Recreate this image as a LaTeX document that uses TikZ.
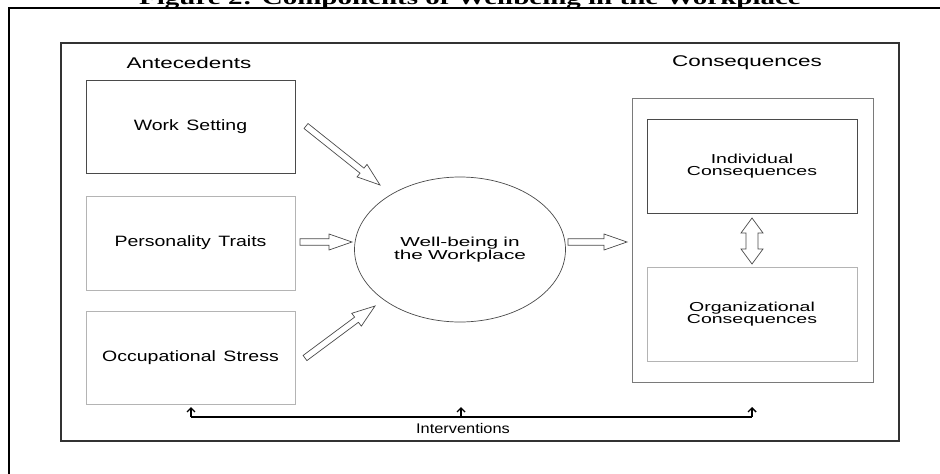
\documentclass[tikz,border=0pt]{standalone}
\usepackage{fontspec}
\setmainfont{Liberation Sans}
\newfontfamily\TitleFont{Liberation Serif}[FakeStretch=1.45]
\newfontfamily\HeadFont{Liberation Sans}[FakeStretch=1.45]
\newfontfamily\BoxFont{Liberation Sans}[FakeStretch=1.3]
\newfontfamily\ConsFont{Liberation Sans}[FakeStretch=1.5]
\newfontfamily\WBFont{Liberation Sans}[FakeStretch=1.6]
\newfontfamily\IntFont{Liberation Sans}[FakeStretch=1.17]
\usetikzlibrary{calc,arrows.meta,shapes.geometric}
\definecolor{edgedark}{HTML}{4A4A4A}
\definecolor{edgemid}{HTML}{7A7A7A}
\definecolor{edgelight}{HTML}{B4B4B4}
\definecolor{framecol}{HTML}{333333}
\newcommand\blockarrow[5]{%
  \coordinate (ba-b) at ($(#2)!#5!(#1)$);
  \draw[blk] ($(#1)!#3!90:(#2)$) -- ($(ba-b)!#3!90:(#2)$) -- ($(ba-b)!#4!90:(#2)$)
    -- (#2) -- ($(ba-b)!#4!-90:(#2)$) -- ($(ba-b)!#3!-90:(#2)$) -- ($(#1)!#3!-90:(#2)$) -- cycle;}
\newcommand\dblarrow[5]{%
  \coordinate (da-a) at ($(#1)!#5!(#2)$);
  \coordinate (da-b) at ($(#2)!#5!(#1)$);
  \draw[blk] (#1) -- ($(da-a)!#4!90:(#2)$) -- ($(da-a)!#3!90:(#2)$) -- ($(da-b)!#3!-90:(#1)$)
    -- ($(da-b)!#4!-90:(#1)$) -- (#2) -- ($(da-b)!#4!90:(#1)$) -- ($(da-b)!#3!90:(#1)$)
    -- ($(da-a)!#3!-90:(#2)$) -- ($(da-a)!#4!-90:(#2)$) -- cycle;}
\begin{document}
\begin{tikzpicture}[x=1pt,y=-1pt,
  blk/.style={draw=edgedark, line width=0.7pt, fill=white, line join=miter},
  txt/.style={inner sep=0pt, align=center},
  boxnode/.style={draw=#1, line width=1pt, inner sep=0pt, align=center},
  intv/.style={line width=1.4pt, black},
  intvarrow/.style={line width=1.4pt, black, -{Straight Barb[length=4pt,width=8pt]}}]
\useasboundingbox (0,0) rectangle (940,474);
% title (cut by the page edge, as in the reference)
\node[anchor=base, inner sep=0pt] (title) at (470,4.5) {\TitleFont\fontsize{20}{22}\selectfont\bfseries Figure 2: Components of Wellbeing in the Workplace};
% outer frame
\draw[line width=1.2pt, black] (9,480) -- (9,8) -- (945,8);
% inner frame
\node[draw=framecol, line width=1.8pt, minimum width=838pt, minimum height=398pt, inner sep=0pt] (frame) at (480,242) {};
% headings
\node[txt] (ante) at (189,63) {\HeadFont\fontsize{15.5}{17}\selectfont Antecedents};
\node[txt] (conseq) at (747,63) {\HeadFont\fontsize{15.5}{17}\selectfont Consequences};
% antecedent boxes
\node[boxnode=edgedark, minimum width=209pt, minimum height=93pt] (work) at (190.5,126.5) {\BoxFont\fontsize{15}{17}\selectfont Work\hspace{0.5em}Setting};
\node[boxnode=edgelight, minimum width=209pt, minimum height=94pt] (pers) at (190.5,243) {\BoxFont\fontsize{15}{17}\selectfont Personality\hspace{0.5em}Traits};
\node[boxnode=edgelight, minimum width=209pt, minimum height=93pt] (occ) at (190.5,357.5) {\BoxFont\fontsize{15}{17}\selectfont Occupational\hspace{0.5em}Stress};
% central ellipse
\node[draw=edgedark, line width=0.7pt, ellipse, minimum width=211pt, minimum height=145pt, inner sep=0pt, align=center] (wb) at (460,249.5) {\WBFont\fontsize{13}{15}\selectfont Well-being\hspace{0.4em}in\\[0pt]\WBFont\fontsize{13}{15}\selectfont the\hspace{0.4em}Workplace};
% consequences
\node[boxnode=edgemid, minimum width=241pt, minimum height=284pt] (cons) at (752.5,240) {};
\node[boxnode=edgedark, minimum width=210pt, minimum height=94pt] (indiv) at (752,166) {\ConsFont\fontsize{13}{13}\selectfont Individual\\\ConsFont\fontsize{13}{13}\selectfont Consequences};
\node[boxnode=edgelight, minimum width=210pt, minimum height=94pt] (org) at (752,314) {\ConsFont\fontsize{13}{13}\selectfont Organizational\\\ConsFont\fontsize{13}{13}\selectfont Consequences};
% block arrows
\coordinate (a1s) at (306,126); \coordinate (a1t) at (380,185);
\coordinate (a2s) at (300,242); \coordinate (a2t) at (352,242);
\coordinate (a3s) at (305,358); \coordinate (a3t) at (375,306);
\coordinate (a4s) at (568,242); \coordinate (a4t) at (627,242);
\blockarrow{a1s}{a1t}{3.2pt}{8pt}{23pt}
\blockarrow{a2s}{a2t}{3.2pt}{8pt}{23pt}
\blockarrow{a3s}{a3t}{3.2pt}{8pt}{23pt}
\blockarrow{a4s}{a4t}{3.2pt}{8pt}{23pt}
\coordinate (d1) at (752,218); \coordinate (d2) at (752,264);
\dblarrow{d1}{d2}{6pt}{11pt}{15pt}
% interventions
\coordinate (iL) at (191,417); \coordinate (iM) at (461,417); \coordinate (iR) at (752,417);
\coordinate (tL) at (191,407); \coordinate (tM) at (461,407); \coordinate (tR) at (752,407);
\draw[intv] (iL) -- (iR);
\draw[intvarrow] (iL) -- (tL);
\draw[intvarrow] (iM) -- (tM);
\draw[intvarrow] (iR) -- (tR);
\node[txt] (intlabel) at (463,428) {\IntFont\fontsize{14}{16}\selectfont Interventions};
\end{tikzpicture}
\end{document}
